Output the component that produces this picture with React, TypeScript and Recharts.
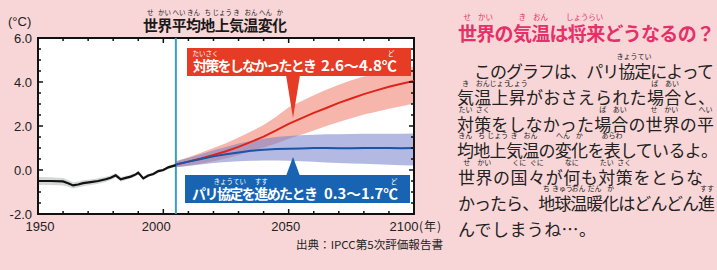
import React from "react";
import {
  ComposedChart,
  Area,
  Line,
  XAxis,
  YAxis,
  CartesianGrid,
  ReferenceLine,
  ReferenceArea,
} from "recharts";

// 観測（黒線と灰色の幅）
const histYears = [1950, 1955, 1960, 1962, 1964, 1966, 1968, 1971, 1974, 1977, 1979, 1981, 1983, 1985, 1987, 1989, 1990, 1992, 1994, 1996, 1998, 2000, 2002, 2005];
const histMean = [-0.5, -0.5, -0.52, -0.6, -0.7, -0.66, -0.6, -0.55, -0.5, -0.42, -0.35, -0.24, -0.42, -0.36, -0.3, -0.2, -0.12, -0.38, -0.25, -0.18, -0.05, 0.0, 0.12, 0.22];
const histLow = [-0.68, -0.68, -0.7, -0.76, -0.84, -0.8, -0.74, -0.68, -0.62, -0.54, -0.46, -0.34, -0.52, -0.45, -0.38, -0.28, -0.2, -0.46, -0.32, -0.25, -0.12, -0.07, 0.05, 0.15];
const histHigh = [-0.32, -0.33, -0.36, -0.45, -0.56, -0.52, -0.47, -0.43, -0.38, -0.31, -0.25, -0.15, -0.32, -0.27, -0.22, -0.12, -0.05, -0.3, -0.18, -0.11, 0.02, 0.07, 0.19, 0.29];

// 予測（2005〜2100）
const projYears = [2005, 2010, 2015, 2020, 2025, 2030, 2035, 2040, 2045, 2050, 2055, 2060, 2065, 2070, 2075, 2080, 2085, 2090, 2095, 2100];
// 対策をしなかったとき
const redMean = [0.25, 0.38, 0.52, 0.68, 0.85, 1.05, 1.28, 1.52, 1.8, 2.1, 2.35, 2.6, 2.82, 3.05, 3.25, 3.45, 3.62, 3.78, 3.92, 4.05];
const redLow = [0.12, 0.2, 0.3, 0.4, 0.52, 0.68, 0.85, 1.02, 1.2, 1.42, 1.6, 1.8, 2.0, 2.18, 2.35, 2.52, 2.65, 2.78, 2.9, 3.02];
const redHigh = [0.4, 0.58, 0.78, 1.0, 1.22, 1.48, 1.75, 2.05, 2.42, 2.85, 3.12, 3.4, 3.65, 3.88, 4.08, 4.25, 4.38, 4.5, 4.6, 4.7];
// パリ協定を進めたとき
const blueMean = [0.25, 0.38, 0.5, 0.62, 0.72, 0.8, 0.87, 0.92, 0.95, 0.97, 0.98, 1.0, 1.0, 0.99, 0.99, 1.0, 1.0, 1.0, 0.99, 1.0];
const blueLow = [0.12, 0.18, 0.25, 0.32, 0.36, 0.4, 0.42, 0.43, 0.43, 0.42, 0.4, 0.37, 0.34, 0.32, 0.3, 0.28, 0.26, 0.24, 0.22, 0.2];
const blueHigh = [0.4, 0.55, 0.72, 0.9, 1.05, 1.2, 1.32, 1.42, 1.5, 1.55, 1.58, 1.6, 1.62, 1.63, 1.64, 1.65, 1.65, 1.65, 1.65, 1.66];

const xTicks = [1950, 1960, 1970, 1980, 1990, 2000, 2010, 2020, 2030, 2040, 2050, 2060, 2070, 2080, 2090, 2100];
const yTicks = [-2, -1.5, -1, -0.5, 0, 0.5, 1, 1.5, 2, 2.5, 3, 3.5, 4, 4.5, 5, 5.5, 6];

// merge into one table by year
const byYear: Record<number, any> = {};
histYears.forEach((y, i) => {
  byYear[y] = { ...(byYear[y] || { year: y }), hist: histMean[i], histRange: [histLow[i], histHigh[i]] };
});
projYears.forEach((y, i) => {
  byYear[y] = {
    ...(byYear[y] || { year: y }),
    red: redMean[i],
    redRange: [redLow[i], redHigh[i]],
    blue: blueMean[i],
    blueRange: [blueLow[i], blueHigh[i]],
  };
});
const rows = Object.values(byYear).sort((a, b) => a.year - b.year);

const PINK = "#f8d6d7";
const RED = "#e63b24";
const BLUE = "#1864b2";
const HEAD = "#e5306a";
const INK = "#222";
const FONT_JP = '"Noto Sans CJK JP", "Noto Sans", sans-serif';
const FONT_NUM = '"Liberation Sans", Arial, sans-serif';

// plot box (follows from chart margins below)
const PLOT_LEFT = 38;
const PLOT_RIGHT = 414;
const PLOT_TOP = 38;
const PLOT_BOTTOM = 214;

const X_LABEL_NUDGE: Record<number, number> = { 1950: 2, 2000: -7, 2050: -3, 2100: -10 };

const XTick = (props: any) => {
  const { x, payload } = props;
  const v = payload.value;
  const major = v % 50 === 0;
  const len = major ? 5 : 3;
  return (
    <g>
      <line x1={x} x2={x} y1={PLOT_BOTTOM} y2={PLOT_BOTTOM - len} stroke="#111" strokeWidth={1.5} />
      <line x1={x} x2={x} y1={PLOT_TOP} y2={PLOT_TOP + len} stroke="#111" strokeWidth={1.5} />
      {major && (
        <text x={x + X_LABEL_NUDGE[v]} y={231} textAnchor="middle" fontSize={13} fontFamily={FONT_NUM} fill={INK}>
          {v}
        </text>
      )}
      {v === 2100 && (
        <text x={x + 5} y={231} fontSize={12} letterSpacing={1} fontFamily={FONT_JP} fill={INK}>
          (年)
        </text>
      )}
    </g>
  );
};

const YTick = (props: any) => {
  const { y, payload } = props;
  const v = payload.value;
  const major = v % 2 === 0;
  const len = major ? 5 : 3;
  return (
    <g>
      <line x1={PLOT_LEFT} x2={PLOT_LEFT + len} y1={y} y2={y} stroke="#111" strokeWidth={1.5} />
      <line x1={PLOT_RIGHT - len} x2={PLOT_RIGHT} y1={y} y2={y} stroke="#111" strokeWidth={1.5} />
      {major && (
        <text x={32} y={y + 5} textAnchor="end" fontSize={13} fontFamily={FONT_NUM} fill={INK}>
          {v.toFixed(1)}
        </text>
      )}
    </g>
  );
};

type Ruby = [number, number, string];

const RubyText = ({
  x, y, width, text, ruby = [], size, rubySize, rubyDy, fill, weight = 400,
}: {
  x: number; y: number; width: number; text: string; ruby?: Ruby[];
  size: number; rubySize: number; rubyDy: number; fill: string; weight?: number;
}) => {
  const adv = width / Array.from(text).length;
  return (
    <g>
      <text x={x} y={y} textLength={width} lengthAdjust="spacing" fontSize={size} fontWeight={weight} fill={fill} fontFamily={FONT_JP}>
        {text}
      </text>
      {ruby.map(([i, n, r]) => (
        <text key={i} x={x + (i + n / 2) * adv} y={y - rubyDy} textAnchor="middle" fontSize={rubySize} fill={fill} fontFamily={FONT_JP}>
          {r}
        </text>
      ))}
    </g>
  );
};

const bodyLines: { x: number; y: number; width: number; text: string; ruby: Ruby[] }[] = [
  { x: 474, y: 77.5, width: 240, text: "このグラフは、パリ協定によって", ruby: [[9, 2, "きょうてい"]] },
  { x: 457, y: 104, width: 258, text: "気温上昇がおさえられた場合と、", ruby: [[0, 1, "き"], [1, 1, "おん"], [2, 1, "じょう"], [3, 1, "しょう"], [11, 1, "ば"], [12, 1, "あい"]] },
  { x: 457, y: 130.5, width: 257, text: "対策をしなかった場合の世界の平", ruby: [[0, 1, "たい"], [1, 1, "さく"], [8, 1, "ば"], [9, 1, "あい"], [11, 1, "せ"], [12, 1, "かい"], [14, 1, "へい"]] },
  { x: 457, y: 156.5, width: 261, text: "均地上気温の変化を表しているよ。", ruby: [[0, 1, "きん"], [1, 1, "ち"], [2, 1, "じょう"], [3, 1, "き"], [4, 1, "おん"], [6, 1, "へん"], [7, 1, "か"], [9, 1, "あらわ"]] },
  { x: 458, y: 183.5, width: 245, text: "世界の国々が何も対策をとらな", ruby: [[0, 1, "せ"], [1, 1, "かい"], [3, 1, "くに"], [4, 1, "ぐに"], [6, 1, "なに"], [8, 1, "たい"], [9, 1, "さく"]] },
  { x: 458, y: 209.5, width: 257, text: "かったら、地球温暖化はどんどん進", ruby: [[5, 1, "ち"], [6, 1, "きゅう"], [7, 1, "おん"], [8, 1, "だん"], [9, 1, "か"], [15, 1, "すす"]] },
  { x: 458, y: 235.5, width: 138, text: "んでしまうね…。", ruby: [] },
];

export default function App() {
  return (
    <div style={{ position: "absolute", left: 0, top: 0, width: 717, height: 270, background: PINK, overflow: "hidden" }}>
      <ComposedChart width={717} height={270} data={rows} margin={{ top: 38, right: 303, bottom: 0, left: 4 }}>
        <CartesianGrid horizontal={false} vertical={false} fill="#fff" />
        <XAxis
          dataKey="year"
          type="number"
          domain={[1950, 2100]}
          ticks={xTicks}
          interval={0}
          height={56}
          axisLine={false}
          tickLine={false}
          tick={XTick}
          allowDataOverflow
        />
        <YAxis
          type="number"
          domain={[-2, 6]}
          ticks={yTicks}
          interval={0}
          width={34}
          axisLine={false}
          tickLine={false}
          tick={YTick}
          allowDataOverflow
        />
        <Area dataKey="redRange" stroke="none" fill="#ef7a68" fillOpacity={0.55} isAnimationActive={false} dot={false} activeDot={false} />
        <Area dataKey="blueRange" stroke="none" fill="#7480ca" fillOpacity={0.55} isAnimationActive={false} dot={false} activeDot={false} />
        <Area dataKey="histRange" stroke="none" fill="#b9bcbc" fillOpacity={0.6} isAnimationActive={false} dot={false} activeDot={false} />
        <ReferenceLine x={2005} stroke="#3d9bc6" strokeWidth={2} />
        <Line dataKey="red" stroke="#df2419" strokeWidth={2} dot={false} activeDot={false} isAnimationActive={false} />
        <Line dataKey="blue" stroke="#1a55a8" strokeWidth={2} dot={false} activeDot={false} isAnimationActive={false} />
        <Line dataKey="hist" stroke="#111" strokeWidth={2.2} dot={false} activeDot={false} isAnimationActive={false} />
        <ReferenceArea x1={1950} x2={2100} y1={-2} y2={6} fill="none" stroke="#111" strokeWidth={2} />
      </ComposedChart>

      <svg width={717} height={270} style={{ position: "absolute", left: 0, top: 0, pointerEvents: "none" }}>
        <text x={8} y={26} fontSize={13} fontFamily={FONT_NUM} fill={INK}>(°C)</text>
        <RubyText
          x={143} y={31} width={144} text="世界平均地上気温変化" size={15} weight={700} fill="#1a1a1a" rubySize={6.5} rubyDy={16}
          ruby={[[0, 1, "せ"], [1, 1, "かい"], [2, 1, "へい"], [3, 1, "きん"], [4, 1, "ち"], [5, 1, "じょう"], [6, 1, "き"], [7, 1, "おん"], [8, 1, "へん"], [9, 1, "か"]]}
        />

        {/* 対策をしなかったとき */}
        <polygon points="286,75 300,75 293,118" fill={RED} />
        <rect x={187} y={48} width={224} height={28} fill={RED} />
        <RubyText x={193} y={71} width={124} text="対策をしなかったとき" size={14} weight={700} fill="#fff" rubySize={6.5} rubyDy={15} ruby={[[0, 2, "たいさく"]]} />
        <text x={321} y={71} textLength={76} lengthAdjust="spacingAndGlyphs" fontSize={14} fontWeight={700} fill="#fff" fontFamily={FONT_JP}>2.6〜4.8℃</text>
        <text x={391} y={56} textAnchor="middle" fontSize={6.5} fill="#fff" fontFamily={FONT_JP}>ど</text>

        {/* パリ協定を進めたとき */}
        <polygon points="286,176 300,176 293,157" fill={BLUE} />
        <rect x={185} y={175} width={225} height={28} fill={BLUE} />
        <RubyText x={192} y={199} width={126} text="パリ協定を進めたとき" size={14} weight={700} fill="#fff" rubySize={6.5} rubyDy={15} ruby={[[2, 2, "きょうてい"], [5, 1, "すす"]]} />
        <text x={324} y={199} textLength={74} lengthAdjust="spacingAndGlyphs" fontSize={14} fontWeight={700} fill="#fff" fontFamily={FONT_JP}>0.3〜1.7℃</text>
        <text x={394} y={184} textAnchor="middle" fontSize={6.5} fill="#fff" fontFamily={FONT_JP}>ど</text>

        <text x={296} y={249} textLength={147} lengthAdjust="spacingAndGlyphs" fontSize={11} fill={INK} fontFamily={FONT_JP}>出典：IPCC第5次評価報告書</text>

        {/* 右側の説明文 */}
        <RubyText
          x={458} y={41} width={257} text="世界の気温は将来どうなるの？" size={19} weight={700} fill={HEAD} rubySize={7.5} rubyDy={21}
          ruby={[[0, 1, "せ"], [1, 1, "かい"], [3, 1, "き"], [4, 1, "おん"], [6, 1, "しょう"], [7, 1, "らい"]]}
        />
        {bodyLines.map((l) => (
          <RubyText key={l.y} x={l.x} y={l.y} width={l.width} text={l.text} ruby={l.ruby} size={17} fill={INK} rubySize={7} rubyDy={18.5} />
        ))}
      </svg>
    </div>
  );
}
